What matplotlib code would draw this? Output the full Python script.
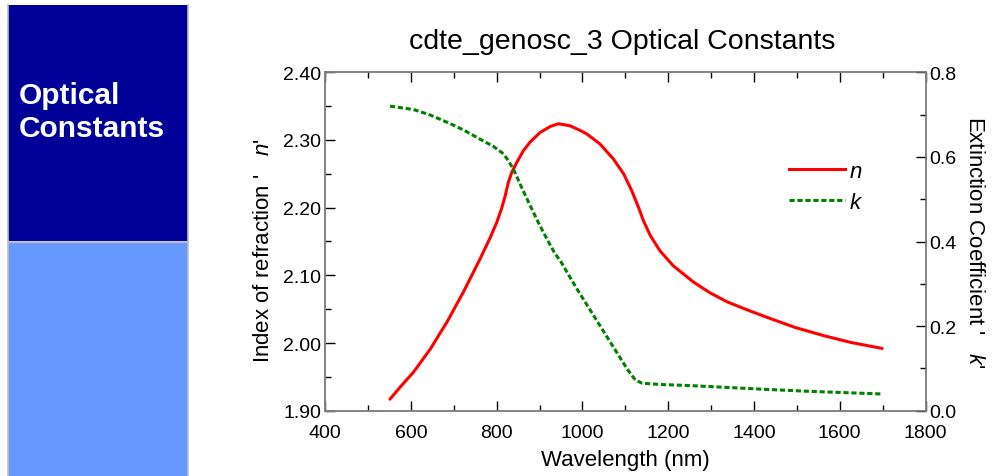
import matplotlib
matplotlib.use("Agg")
import matplotlib.pyplot as plt
from matplotlib.patches import Rectangle
from matplotlib.lines import Line2D
from matplotlib.ticker import MultipleLocator

plt.rcParams['font.family'] = ['Liberation Sans', 'DejaVu Sans']
plt.rcParams['mathtext.fontset'] = 'custom'
plt.rcParams['mathtext.rm'] = 'Liberation Sans'
plt.rcParams['mathtext.it'] = 'Liberation Sans:italic'

# Refractive index n versus wavelength (nm)
wl_n = [551, 575, 606, 645, 684, 722, 761, 785, 800, 812, 820, 827, 835, 847,
        862, 878, 901, 925, 944, 971, 995, 1010, 1041, 1072, 1096, 1115, 1131,
        1142, 1158, 1181, 1212, 1259, 1298, 1337, 1376, 1430, 1496, 1562, 1625,
        1699]
n_vals = [1.917, 1.935, 1.957, 1.991, 2.031, 2.075, 2.124, 2.156, 2.178, 2.200,
          2.218, 2.237, 2.252, 2.267, 2.284, 2.297, 2.311, 2.320, 2.324, 2.321,
          2.314, 2.309, 2.294, 2.272, 2.250, 2.225, 2.200, 2.181, 2.159, 2.136,
          2.114, 2.090, 2.074, 2.061, 2.051, 2.038, 2.023, 2.011, 2.001, 1.992]

# Extinction coefficient k versus wavelength (nm)
wl_k = [551, 606, 645, 684, 722, 761, 792, 816, 827, 839, 858, 878, 897, 917,
        936, 948, 987, 1026, 1065, 1104, 1123, 1139, 1181, 1259, 1337, 1415,
        1524, 1699]
k_vals = [0.720, 0.712, 0.699, 0.682, 0.664, 0.642, 0.625, 0.607, 0.591, 0.571,
          0.528, 0.485, 0.445, 0.406, 0.371, 0.355, 0.288, 0.225, 0.162, 0.099,
          0.073, 0.065, 0.062, 0.059, 0.055, 0.051, 0.046, 0.0395]

W, H = 992, 477
fig = plt.figure(figsize=(W / 100, H / 100), dpi=100)
fig.patch.set_facecolor('white')

# Side banner
banner = fig.add_axes([0, 0, 1, 1], zorder=-5)
banner.set_xlim(0, W)
banner.set_ylim(H, 0)
banner.axis('off')
banner.add_patch(Rectangle((8, 6), 180, 237, facecolor='#000099', edgecolor='none'))
banner.add_patch(Rectangle((8, 243), 180, 240, facecolor='#6699FF', edgecolor='none'))
banner.plot([8, 8], [6, 477], color='#BFBFBF', lw=1.2)
banner.plot([188, 188], [6, 477], color='#BFBFBF', lw=1.2)
banner.plot([8, 188], [242.5, 242.5], color='#BFBFBF', lw=1.5)
banner.text(19, 96, 'Optical', color='white', fontsize=21.5, fontweight='bold',
            va='center', ha='left')
banner.text(19, 129, 'Constants', color='white', fontsize=21.5, fontweight='bold',
            va='center', ha='left')

ax = fig.add_axes([325.2 / W, 1 - 411.7 / H, 600.3 / W, 338.4 / H])
ax2 = ax.twinx()

ax.plot(wl_n, n_vals, color='#FF0000', lw=2.2, solid_capstyle='round',
        solid_joinstyle='round', zorder=3)
ln_k, = ax2.plot(wl_k, k_vals, color='#008000', lw=2.2, zorder=3)
ln_k.set_dashes((1.7, 0.9))

ax.set_xlim(400, 1800)
ax.set_ylim(1.9, 2.4)
ax2.set_ylim(0.0, 0.8)

ax.xaxis.set_major_locator(MultipleLocator(200))
ax.xaxis.set_minor_locator(MultipleLocator(100))
ax.yaxis.set_major_locator(MultipleLocator(0.1))
ax.yaxis.set_minor_locator(MultipleLocator(0.05))
ax2.yaxis.set_major_locator(MultipleLocator(0.2))
ax2.yaxis.set_minor_locator(MultipleLocator(0.1))
ax.yaxis.set_major_formatter(plt.FormatStrFormatter('%.2f'))
ax2.yaxis.set_major_formatter(plt.FormatStrFormatter('%.1f'))

for a in (ax, ax2):
    for s in a.spines.values():
        s.set_color('#808080')
        s.set_linewidth(1.1)

TICK_FS = 14
LABEL_FS = 16
ax.tick_params(axis='x', which='both', direction='in', top=True, bottom=True,
               labelsize=TICK_FS, color='black', pad=9.5)
ax.tick_params(axis='y', which='both', direction='in', left=True, right=False,
               labelsize=TICK_FS, color='black', pad=3)
ax2.tick_params(axis='y', which='both', direction='in', right=True,
                labelsize=TICK_FS, color='black', pad=3)
for a in (ax, ax2):
    a.tick_params(which='major', length=7.2, width=1.0)
    a.tick_params(which='minor', length=4.3, width=1.0)

fig.text(622 / W, 1 - 42 / H, 'cdte_genosc_3 Optical Constants', fontsize=20.5,
         ha='center', va='center')
ax.set_xlabel('Wavelength (nm)', fontsize=LABEL_FS, labelpad=6)
ax.set_ylabel("Index of refraction '   $\\mathit{n}$'", fontsize=LABEL_FS)
ax.yaxis.set_label_coords(-0.085, 0.475)
ax2.set_ylabel("Extinction Coefficient '   $\\mathit{k}$'", fontsize=LABEL_FS,
               rotation=270, labelpad=20)

handles = [Line2D([], [], color='#FF0000', lw=2.2),
           Line2D([], [], color='#008000', lw=2.2, dashes=(1.7, 0.9))]
ax.legend(handles, ['n', 'k'], loc='upper left', frameon=False,
          bbox_to_anchor=(789 / W, 1 - 162 / H), bbox_transform=fig.transFigure,
          prop={'style': 'italic', 'size': 16}, handlelength=2.5,
          handletextpad=0.25, labelspacing=0.45, borderaxespad=0, borderpad=0)

fig.savefig('out.png', dpi=100, facecolor='white')
